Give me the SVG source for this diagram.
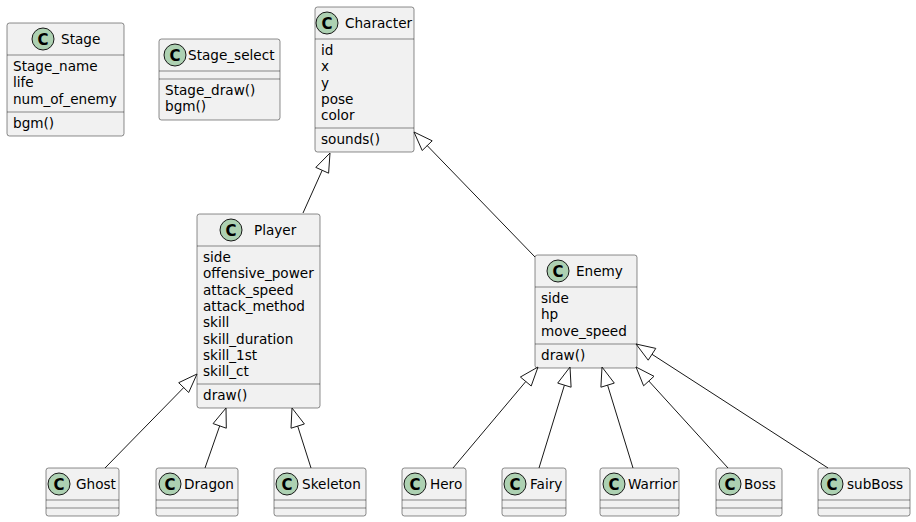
<svg xmlns="http://www.w3.org/2000/svg" width="916" height="522" viewBox="0 0 916 522">
<style>
.box{fill:#F1F1F1;stroke:#181818;stroke-width:0.5}
.div{stroke:#181818;stroke-width:0.5}
.sp{fill:#ADD1B2;stroke:#181818;stroke-width:1}
.c{font-family:"DejaVu Sans","Liberation Sans",sans-serif;font-size:15px;font-weight:bold;fill:#000;text-anchor:middle}
text{font-family:"DejaVu Sans","Liberation Sans",sans-serif;font-size:13.6px;fill:#000}
.edge line{stroke:#181818;stroke-width:1}
.edge polygon{fill:none;stroke:#181818;stroke-width:1}
</style>
<rect width="916" height="522" fill="#FFFFFF"/>
<g id="Stage">
<rect class="box" x="7" y="23" width="117" height="113" rx="2.5"/>
<circle class="sp" cx="43" cy="39" r="11"/><text class="c" x="43" y="44.5">C</text>
<text x="61" y="44">Stage</text>
<line class="div" x1="7" y1="55" x2="124" y2="55"/>
<text x="13" y="71">Stage_name</text>
<text x="13" y="87.3">life</text>
<text x="13" y="103.6">num_of_enemy</text>
<line class="div" x1="7" y1="112" x2="124" y2="112"/>
<text x="13" y="128">bgm()</text>
</g>
<g id="Stage_select">
<rect class="box" x="159" y="39" width="121" height="81" rx="2.5"/>
<circle class="sp" cx="175" cy="55" r="11"/><text class="c" x="175" y="60.5">C</text>
<text x="188" y="60">Stage_select</text>
<line class="div" x1="159" y1="71" x2="280" y2="71"/>
<line class="div" x1="159" y1="79" x2="280" y2="79"/>
<text x="165" y="95">Stage_draw()</text>
<text x="165" y="111.3">bgm()</text>
</g>
<g id="Character">
<rect class="box" x="315" y="7" width="99" height="145" rx="2.5"/>
<circle class="sp" cx="327" cy="23" r="11"/><text class="c" x="327" y="28.5">C</text>
<text x="345" y="28">Character</text>
<line class="div" x1="315" y1="39" x2="414" y2="39"/>
<text x="321" y="55">id</text>
<text x="321" y="71.3">x</text>
<text x="321" y="87.6">y</text>
<text x="321" y="103.9">pose</text>
<text x="321" y="120.2">color</text>
<line class="div" x1="315" y1="128" x2="414" y2="128"/>
<text x="321" y="144">sounds()</text>
</g>
<g id="Player">
<rect class="box" x="197" y="214" width="123" height="194" rx="2.5"/>
<circle class="sp" cx="231" cy="230" r="11"/><text class="c" x="231" y="235.5">C</text>
<text x="254" y="235">Player</text>
<line class="div" x1="197" y1="246" x2="320" y2="246"/>
<text x="203" y="262">side</text>
<text x="203" y="278.3">offensive_power</text>
<text x="203" y="294.6">attack_speed</text>
<text x="203" y="310.9">attack_method</text>
<text x="203" y="327.2">skill</text>
<text x="203" y="343.5">skill_duration</text>
<text x="203" y="359.8">skill_1st</text>
<text x="203" y="376.1">skill_ct</text>
<line class="div" x1="197" y1="384" x2="320" y2="384"/>
<text x="203" y="400">draw()</text>
</g>
<g id="Enemy">
<rect class="box" x="535" y="255" width="102" height="113" rx="2.5"/>
<circle class="sp" cx="558" cy="271" r="11"/><text class="c" x="558" y="276.5">C</text>
<text x="576" y="276">Enemy</text>
<line class="div" x1="535" y1="287" x2="637" y2="287"/>
<text x="541" y="303">side</text>
<text x="541" y="319.3">hp</text>
<text x="541" y="335.6">move_speed</text>
<line class="div" x1="535" y1="344" x2="637" y2="344"/>
<text x="541" y="360">draw()</text>
</g>
<g id="Ghost">
<rect class="box" x="46" y="468" width="73" height="48" rx="2.5"/>
<circle class="sp" cx="59" cy="484" r="11"/><text class="c" x="59" y="489.5">C</text>
<text x="76" y="489">Ghost</text>
<line class="div" x1="46" y1="500" x2="119" y2="500"/>
<line class="div" x1="46" y1="508" x2="119" y2="508"/>
</g>
<g id="Dragon">
<rect class="box" x="156" y="468" width="82" height="48" rx="2.5"/>
<circle class="sp" cx="170" cy="484" r="11"/><text class="c" x="170" y="489.5">C</text>
<text x="184" y="489">Dragon</text>
<line class="div" x1="156" y1="500" x2="238" y2="500"/>
<line class="div" x1="156" y1="508" x2="238" y2="508"/>
</g>
<g id="Skeleton">
<rect class="box" x="274" y="468" width="92" height="48" rx="2.5"/>
<circle class="sp" cx="287" cy="484" r="11"/><text class="c" x="287" y="489.5">C</text>
<text x="302" y="489">Skeleton</text>
<line class="div" x1="274" y1="500" x2="366" y2="500"/>
<line class="div" x1="274" y1="508" x2="366" y2="508"/>
</g>
<g id="Hero">
<rect class="box" x="402" y="468" width="64" height="48" rx="2.5"/>
<circle class="sp" cx="415" cy="484" r="11"/><text class="c" x="415" y="489.5">C</text>
<text x="430" y="489">Hero</text>
<line class="div" x1="402" y1="500" x2="466" y2="500"/>
<line class="div" x1="402" y1="508" x2="466" y2="508"/>
</g>
<g id="Fairy">
<rect class="box" x="502" y="468" width="64" height="48" rx="2.5"/>
<circle class="sp" cx="515" cy="484" r="11"/><text class="c" x="515" y="489.5">C</text>
<text x="530" y="489">Fairy</text>
<line class="div" x1="502" y1="500" x2="566" y2="500"/>
<line class="div" x1="502" y1="508" x2="566" y2="508"/>
</g>
<g id="Warrior">
<rect class="box" x="600" y="468" width="79" height="48" rx="2.5"/>
<circle class="sp" cx="614" cy="484" r="11"/><text class="c" x="614" y="489.5">C</text>
<text x="628" y="489">Warrior</text>
<line class="div" x1="600" y1="500" x2="679" y2="500"/>
<line class="div" x1="600" y1="508" x2="679" y2="508"/>
</g>
<g id="Boss">
<rect class="box" x="716" y="468" width="66" height="48" rx="2.5"/>
<circle class="sp" cx="730" cy="484" r="11"/><text class="c" x="730" y="489.5">C</text>
<text x="744" y="489">Boss</text>
<line class="div" x1="716" y1="500" x2="782" y2="500"/>
<line class="div" x1="716" y1="508" x2="782" y2="508"/>
</g>
<g id="subBoss">
<rect class="box" x="818" y="468" width="92" height="48" rx="2.5"/>
<circle class="sp" cx="832" cy="484" r="11"/><text class="c" x="832" y="489.5">C</text>
<text x="847" y="489">subBoss</text>
<line class="div" x1="818" y1="500" x2="910" y2="500"/>
<line class="div" x1="818" y1="508" x2="910" y2="508"/>
</g>
<g id="connectors" class="edge">
<line x1="303" y1="213" x2="322.2" y2="170.3"/>
<polygon points="330,153 328.6,173.2 315.8,167.4"/>
<line x1="535" y1="257" x2="427.2" y2="145.6"/>
<polygon points="414,132 432.2,140.8 422.2,150.5"/>
<line x1="105" y1="468" x2="183.7" y2="387.6"/>
<polygon points="197,374 188.7,392.5 178.7,382.7"/>
<line x1="205" y1="468" x2="219.7" y2="425.9"/>
<polygon points="226,408 226.3,428.2 213.1,423.6"/>
<line x1="311" y1="468" x2="297.7" y2="426.1"/>
<polygon points="292,408 304.4,424 291,428.2"/>
<line x1="453" y1="468" x2="525.8" y2="381.5"/>
<polygon points="538,367 531.2,386 520.4,377"/>
<line x1="539" y1="468" x2="564.4" y2="385.2"/>
<polygon points="570,367 571.1,387.2 557.7,383.1"/>
<line x1="633" y1="468" x2="607.6" y2="385.2"/>
<polygon points="602,367 614.3,383.1 600.9,387.2"/>
<line x1="728" y1="468" x2="648.8" y2="381"/>
<polygon points="636,367 654,376.3 643.6,385.8"/>
<line x1="828" y1="468" x2="652" y2="354.3"/>
<polygon points="636,344 655.8,348.4 648.2,360.2"/>
</g>
</svg>
